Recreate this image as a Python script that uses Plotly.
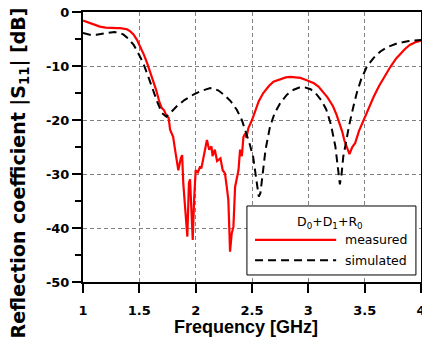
import plotly.graph_objects as go

# Measured |S11| (red)
meas_f = [1.00, 1.05, 1.10, 1.15, 1.20, 1.25, 1.30, 1.33, 1.36, 1.39, 1.42, 1.45, 1.48, 1.51,
          1.54, 1.57, 1.60, 1.62, 1.65, 1.68, 1.70, 1.72, 1.74, 1.76, 1.773, 1.80, 1.817,
          1.846, 1.868, 1.88, 1.89, 1.915, 1.926, 1.94, 1.95, 1.965, 1.974, 1.986, 2.00,
          2.02, 2.04, 2.05, 2.07, 2.10, 2.12, 2.14, 2.15, 2.17, 2.19, 2.22, 2.24, 2.26,
          2.276, 2.29, 2.30, 2.305, 2.32, 2.335, 2.35, 2.365, 2.38, 2.394, 2.41, 2.424,
          2.44, 2.45, 2.468, 2.50, 2.53, 2.56, 2.60, 2.65, 2.69, 2.75, 2.80, 2.84, 2.88,
          2.93, 2.98, 3.02, 3.05, 3.09, 3.13, 3.17, 3.20, 3.22, 3.25, 3.28, 3.30, 3.32,
          3.34, 3.365, 3.39, 3.415, 3.45, 3.49, 3.53, 3.58, 3.63, 3.68, 3.73, 3.78, 3.82,
          3.86, 3.90, 3.95, 4.00]
meas_db = [-1.6, -2.0, -2.4, -2.7, -2.9, -3.0, -3.0, -3.0, -3.1, -3.2, -3.6, -4.2, -5.2, -6.4,
           -7.9, -9.5, -11.2, -12.6, -14.5, -16.8, -17.8, -18.2, -19.2, -19.6, -21.8, -23.1, -25.5,
           -29.3, -27.1, -26.5, -31.7, -37.9, -41.6, -31.7, -31.0, -37.9, -42.2, -34.8, -29.3,
           -29.7, -28.6, -29.0, -26.8, -23.7, -25.5, -24.9, -26.7, -25.5, -27.6, -27.1, -29.3, -29.9,
           -32.4, -34.8, -41.0, -44.4, -41.0, -39.8, -32.4, -31.0, -29.3, -25.5, -26.7, -23.1,
           -22.5, -23.3, -21.5, -20.0, -18.1, -16.5, -15.0, -13.7, -12.9, -12.4, -12.1, -12.0, -12.1,
           -12.2, -12.6, -12.9, -13.2, -13.8, -14.7, -15.8, -16.8, -17.5, -19.0, -20.8, -22.1, -23.8,
           -24.9, -26.3, -25.0, -24.3, -22.0, -20.0, -18.0, -15.7, -13.6, -11.8, -10.1, -8.6, -7.6,
           -6.8, -6.1, -5.6, -5.3]

# Simulated |S11| (black dashed)
sim_f = [1.00, 1.06, 1.12, 1.18, 1.24, 1.28, 1.33, 1.36, 1.40, 1.45, 1.50, 1.535, 1.58, 1.62,
         1.66, 1.70, 1.74, 1.78, 1.83, 1.90, 1.98, 2.05, 2.13, 2.20, 2.25, 2.31, 2.365, 2.41,
         2.45, 2.48, 2.51, 2.54, 2.56, 2.575, 2.59, 2.62, 2.66, 2.70, 2.75, 2.81, 2.87, 2.92,
         2.96, 3.02, 3.075, 3.12, 3.16, 3.20, 3.24, 3.265, 3.28, 3.295, 3.31, 3.34, 3.36, 3.40,
         3.43, 3.47, 3.52, 3.58, 3.64, 3.70, 3.79, 3.88, 4.00]
sim_db = [-3.9, -4.2, -4.2, -4.0, -3.7, -3.7, -3.9, -4.2, -4.9, -6.1, -8.0, -9.5, -12.0, -14.4,
          -16.7, -18.7, -19.4, -18.6, -17.5, -16.3, -15.3, -14.6, -14.1, -14.5, -15.3, -16.5, -18.1, -20.0,
          -22.5, -24.5, -26.8, -31.0, -34.2, -33.5, -31.1, -25.5, -21.2, -18.8, -16.9, -15.3, -14.4, -14.0,
          -13.9, -14.3, -15.3, -16.5, -18.1, -20.8, -24.9, -29.5, -31.9, -30.0, -26.8, -23.5, -21.2, -17.5,
          -15.0, -12.4, -10.1, -8.5, -7.3, -6.5, -5.8, -5.4, -5.2]

x_ticks = [1, 1.5, 2, 2.5, 3, 3.5, 4]
x_ticklabels = ["1", "1.5", "2", "2.5", "3", "3.5", "4"]
y_ticks = [0, -10, -20, -30, -40, -50]
y_ticklabels = ["0", "-10", "-20", "-30", "-40", "-50"]

legend_title = "D<sub>0</sub>+D<sub>1</sub>+R<sub>0</sub>"
series_names = ["measured", "simulated"]

fig = go.Figure()
fig.add_trace(go.Scatter(x=meas_f, y=meas_db, mode="lines", name=series_names[0],
                         line=dict(color="#ff0000", width=2.2), showlegend=False))
fig.add_trace(go.Scatter(x=sim_f, y=sim_db, mode="lines", name=series_names[1],
                         line=dict(color="black", width=2, dash="8px,5px"), showlegend=False))

tickfont = dict(family="DejaVu Sans", size=13, color="black", weight="bold")
fig.update_xaxes(range=[1, 4], tickvals=x_ticks, ticktext=x_ticklabels,
                 showline=True, linecolor="black", linewidth=2, mirror=True,
                 ticks="outside", ticklen=9, tickwidth=1.5, tickcolor="black",
                 ticklabelstandoff=6, ticklabeloverflow="allow",
                 showgrid=True, gridcolor="#808080", gridwidth=1, griddash="4px,3px",
                 zeroline=False, tickfont=tickfont, automargin=False)
fig.update_yaxes(range=[-50, 0], tickvals=y_ticks, ticktext=y_ticklabels,
                 showline=True, linecolor="black", linewidth=2, mirror=True,
                 ticks="outside", ticklen=9, tickwidth=1.5, tickcolor="black",
                 ticklabeloverflow="allow",
                 minor=dict(dtick=5, ticks="outside", ticklen=6, tickwidth=1.5, tickcolor="black",
                            showgrid=False),
                 showgrid=True, gridcolor="#808080", gridwidth=1, griddash="4px,3px",
                 zeroline=False, tickfont=tickfont, automargin=False)

# Axis titles
fig.add_annotation(text="Frequency [GHz]", xref="paper", yref="paper", x=0.483, y=0,
                   yshift=-45, showarrow=False, xanchor="center", yanchor="middle",
                   font=dict(family="Liberation Sans", size=18, color="black", weight="bold"))
fig.add_annotation(text="Reflection coefficient |S<sub>11</sub>| [dB]", xref="paper", yref="paper",
                   x=0, y=0.402, xshift=-64, textangle=-90, showarrow=False,
                   xanchor="center", yanchor="middle",
                   font=dict(family="DejaVu Sans", size=19, color="black", weight="bold"))

# Legend box (drawn manually to match long sample lines)
fig.add_shape(type="rect", xref="paper", yref="paper", x0=0.485, x1=0.985, y0=0.026, y1=0.2815,
              line=dict(color="black", width=1), fillcolor="white", layer="above")
fig.add_annotation(text=legend_title, xref="paper", yref="paper", x=0.731, y=0.222,
                   showarrow=False, xanchor="center", yanchor="middle",
                   font=dict(family="DejaVu Sans", size=12.5, color="black"))
fig.add_shape(type="line", xref="paper", yref="paper", x0=0.509, x1=0.749, y0=0.156, y1=0.156,
              line=dict(color="#ff0000", width=2.2), layer="above")
fig.add_shape(type="line", xref="paper", yref="paper", x0=0.509, x1=0.749, y0=0.081, y1=0.081,
              line=dict(color="black", width=2, dash="8px,5px"), layer="above")
fig.add_annotation(text=series_names[0], xref="paper", yref="paper", x=0.769, y=0.156,
                   showarrow=False, xanchor="left", yanchor="middle",
                   font=dict(family="DejaVu Sans", size=12.5, color="black"))
fig.add_annotation(text=series_names[1], xref="paper", yref="paper", x=0.769, y=0.081,
                   showarrow=False, xanchor="left", yanchor="middle",
                   font=dict(family="DejaVu Sans", size=12.5, color="black"))

fig.update_layout(width=422, height=339, margin=dict(l=83, r=1, t=12, b=57),
                  paper_bgcolor="white", plot_bgcolor="white", showlegend=False)

# remove the default 8px page margin so the 422x339 figure fills the window exactly
fig.write_html("out.html", config={"displayModeBar": False},
               post_script="document.body.style.margin='0';document.body.style.overflow='hidden';")
